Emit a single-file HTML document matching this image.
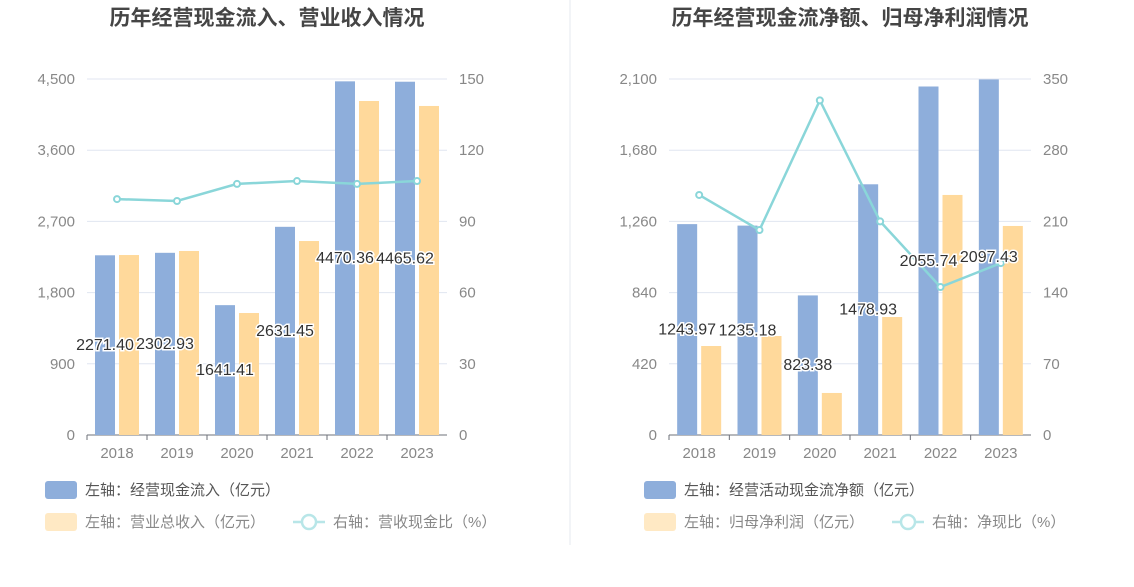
<!DOCTYPE html>
<html><head><meta charset="utf-8"><style>
body{margin:0;background:#fff;width:1134px;height:582px;overflow:hidden;font-family:"Liberation Sans","Noto Sans CJK SC",sans-serif}
</style></head><body>
<svg id="svg" width="1134" height="582" xmlns="http://www.w3.org/2000/svg">
<line x1="570" y1="0" x2="570" y2="545" stroke="#e6e9ef" stroke-width="1"/>
</svg>
<script>
const categories=["2018","2019","2020","2021","2022","2023"];
const leftInflow=[2271.40,2302.93,1641.41,2631.45,4470.36,4465.62];
const leftRevenue=[2275,2326,1542,2452,4222,4159];
const leftRatio=[99.4,98.6,105.8,107,105.8,107];
const leftTicks=[0,900,1800,2700,3600,4500];
const leftRTicks=[0,30,60,90,120,150];
const rightNet=[1243.97,1235.18,823.38,1478.93,2055.74,2097.43];
const rightProfit=[525,584,248,696,1416,1233];
const rightRatio=[236,201.5,329,210,145.5,169];
const rightTicks=[0,420,840,1260,1680,2100];
const rightRTicks=[0,70,140,210,280,350];

const svg=document.getElementById('svg');
const NS="http://www.w3.org/2000/svg";
function mk(tag,attrs,parent){const e=document.createElementNS(NS,tag);for(const k in attrs)e.setAttribute(k,attrs[k]);(parent||svg).appendChild(e);return e;}
function fmt(v){return v.toLocaleString('en-US');}

function panel(p){
  const g=mk('g',{});
  
  
  const x0=p.x0,x1=p.x1,y0=435,y1=79;
  const lmax=p.lt[p.lt.length-1],rmax=p.rt[p.rt.length-1];
  const yL=v=>y0-(v/lmax)*(y0-y1);
  const yR=v=>y0-(v/rmax)*(y0-y1);
  const bw=(x1-x0)/categories.length;
  const xc=i=>x0+bw*(i+0.5);
  const t=mk('text',{x:(x0+x1)/2,y:25,'text-anchor':'middle','font-size':'21','font-weight':'bold',fill:'#454545'},g);
  t.textContent=p.title;
  
  
  p.lt.forEach((v,i)=>{
    const y=yL(v);
    if(i>0){const l=mk('line',{x1:x0,x2:x1,y1:y,y2:y,stroke:'#e0e6f1'},g);
      
      }
    const a=mk('text',{x:x0-12,y:y+5,'text-anchor':'end','font-size':'15',fill:'#888'},g);
    a.textContent=fmt(v);
    
    
    const b=mk('text',{x:x1+12,y:y+5,'text-anchor':'start','font-size':'15',fill:'#888'},g);
    b.textContent=p.rt[i];
    
    
  });
  const ax=mk('line',{x1:x0,x2:x1,y1:y0,y2:y0,stroke:'#6e7079'},g);
  
  
  categories.forEach((c,i)=>{
    const tk=mk('line',{x1:x0+bw*i,x2:x0+bw*i,y1:y0,y2:y0+5,stroke:'#6e7079'},g);
    
    
    const tx=mk('text',{x:xc(i),y:y0+23,'text-anchor':'middle','font-size':'15',fill:'#888'},g);
    tx.textContent=c;
    
    
    const b1=mk('rect',{x:xc(i)-22,y:yL(p.a[i]),width:20,height:y0-yL(p.a[i]),fill:'#8eaedb'},g);
    
    
    const b2=mk('rect',{x:xc(i)+2,y:yL(p.b[i]),width:20,height:y0-yL(p.b[i]),fill:'#ffd99b'},g);
    
    
  });
  const pts=p.r.map((v,i)=>xc(i)+','+yR(v)).join(' ');
  const pl=mk('polyline',{points:pts,fill:'none',stroke:'#8ad6d9','stroke-width':'2.5'},g);
  
  
  p.r.forEach((v,i)=>{
    const c=mk('circle',{cx:xc(i),cy:yR(v),r:3,fill:'#fff',stroke:'#8ad6d9','stroke-width':'2'},g);
    
    
  });
  p.a.forEach((v,i)=>{
    const y=(yL(v)+y0)/2+5;
    const l=mk('text',{x:xc(i)-12,y:y,'text-anchor':'middle','font-size':'16',fill:'#333',stroke:'#fff','stroke-width':'3','paint-order':'stroke'},g);
    l.textContent=v.toFixed(2);
    
    
  });
  const lx=p.lx;
  const r1=mk('rect',{x:lx,y:481,width:32,height:18,rx:3,fill:'#8eaedb'},g);
  
  
  const t1=mk('text',{x:lx+40,y:495,'font-size':'15',fill:'#555'},g);t1.textContent=p.l1;
  
  
  const r2=mk('rect',{x:lx,y:513,width:32,height:18,rx:3,fill:'#ffe9c4'},g);
  
  
  const t2=mk('text',{x:lx+40,y:527,'font-size':'15',fill:'#888'},g);t2.textContent=p.l2;
  
  
  const ox=lx+p.l3x;
  const ll=mk('line',{x1:ox,x2:ox+32,y1:522,y2:522,stroke:'#b8e6e8','stroke-width':'2.5'},g);
  
  
  const lc=mk('circle',{cx:ox+16,cy:522,r:7,fill:'#fff',stroke:'#b8e6e8','stroke-width':'2.5'},g);
  
  
  const t3=mk('text',{x:ox+40,y:527,'font-size':'15',fill:'#888'},g);t3.textContent=p.l3;
  
  
}
panel({name:'left-chart',title:'历年经营现金流入、营业收入情况',x0:87,x1:447,lx:45,lt:leftTicks,rt:leftRTicks,a:leftInflow,b:leftRevenue,r:leftRatio,
  l1:'左轴：经营现金流入（亿元）',l2:'左轴：营业总收入（亿元）',l3:'右轴：营收现金比（%）',l3x:248});
panel({name:'right-chart',title:'历年经营现金流净额、归母净利润情况',x0:669,x1:1031,lx:644,lt:rightTicks,rt:rightRTicks,a:rightNet,b:rightProfit,r:rightRatio,
  l1:'左轴：经营活动现金流净额（亿元）',l2:'左轴：归母净利润（亿元）',l3:'右轴：净现比（%）',l3x:248});
</script>
</body></html>
